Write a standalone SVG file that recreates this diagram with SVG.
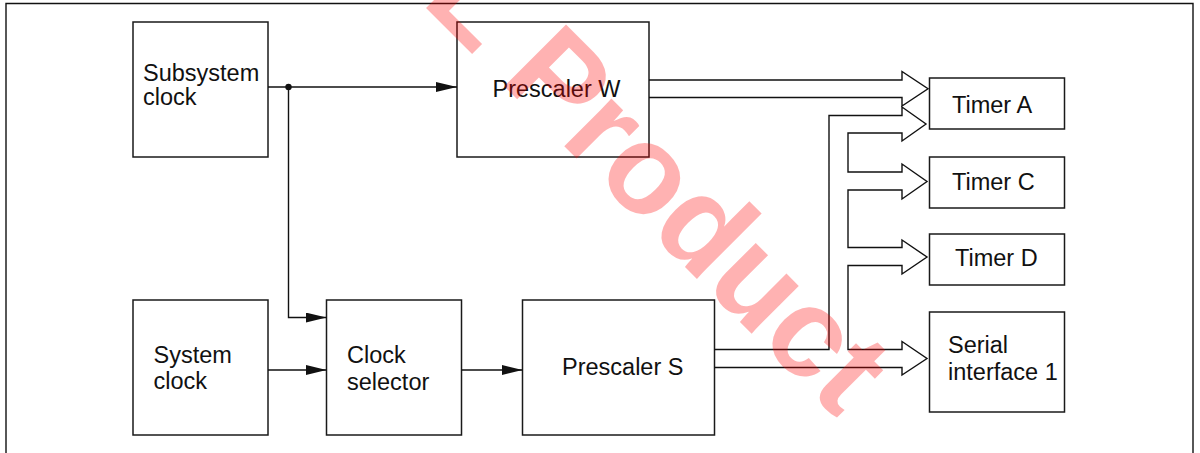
<svg xmlns="http://www.w3.org/2000/svg" width="1200" height="453" viewBox="0 0 1200 453">
<style>
.box{fill:#fff;stroke:#1a1a1a;stroke-width:1.5}
.t{font-family:"Liberation Sans",Arial,sans-serif;font-size:23.5px;fill:#111}
.ln{fill:none;stroke:#111;stroke-width:1.4}
.bus{fill:none;stroke:#111;stroke-width:1.4;stroke-linejoin:miter}
.wm{font-family:"Liberation Sans",Arial,sans-serif;font-weight:bold;font-size:127px;fill:#ff0000;fill-opacity:0.3}
</style>
<defs>
<marker id="ah" markerUnits="userSpaceOnUse" markerWidth="21" markerHeight="10" refX="21" refY="5" orient="auto">
<path d="M0,0 L21,5 L0,10 z" fill="#111"/>
</marker>
</defs>
<rect width="1200" height="453" fill="#fff"/>
<path class="ln" d="M6,455 V3.5 H1193 V455" stroke-width="1.5"/>

<g id="subsystem-clock">
<rect class="box" x="133" y="22" width="135" height="135"/>
<text class="t" x="143" y="80.5">Subsystem</text>
<text class="t" x="143" y="105">clock</text>
</g>
<g id="system-clock">
<rect class="box" x="133" y="300" width="135" height="135"/>
<text class="t" x="153.5" y="362.5">System</text>
<text class="t" x="153.5" y="388.5">clock</text>
</g>
<g id="clock-selector">
<rect class="box" x="326.5" y="300" width="135" height="135"/>
<text class="t" x="347" y="363">Clock</text>
<text class="t" x="347" y="389.5">selector</text>
</g>
<g id="prescaler-w">
<rect class="box" x="457" y="22" width="192" height="135"/>
<text class="t" x="492.5" y="96.5">Prescaler W</text>
</g>
<g id="prescaler-s">
<rect class="box" x="522.5" y="300" width="192" height="135"/>
<text class="t" x="562" y="375">Prescaler S</text>
</g>
<g id="timer-a">
<rect class="box" x="929.5" y="78" width="135" height="51"/>
<text class="t" x="952" y="112.5">Timer A</text>
</g>
<g id="timer-c">
<rect class="box" x="929.5" y="157" width="135" height="51"/>
<text class="t" x="952" y="190">Timer C</text>
</g>
<g id="timer-d">
<rect class="box" x="929.5" y="234" width="135" height="51"/>
<text class="t" x="955" y="265.5">Timer D</text>
</g>
<g id="serial-interface-1">
<rect class="box" x="929.5" y="312" width="135" height="100"/>
<text class="t" x="948" y="352.5">Serial</text>
<text class="t" x="948" y="380">interface 1</text>
</g>

<g id="connectors">
<line class="ln" x1="268" y1="87" x2="457" y2="87" marker-end="url(#ah)"/>
<circle cx="288.5" cy="87" r="3.2" fill="#111"/>
<polyline class="ln" points="288.5,87 288.5,317.5 326.5,317.5" marker-end="url(#ah)"/>
<line class="ln" x1="268" y1="370" x2="326.5" y2="370" marker-end="url(#ah)"/>
<line class="ln" x1="461.5" y1="370" x2="522.5" y2="370" marker-end="url(#ah)"/>
<polyline class="bus" points="649,80 902,80 902,71.5 928,88.75 902,106 902,97.5 649,97.5"/>
<polyline class="bus" points="714.5,349.5 829,349.5 829,115.5 902,115.5 902,107 926,124 902,141 902,133 848,133 848,172 902,172 902,164 927,181.5 902,199 902,190 848,190 848,247.5 902,247.5 902,240 927,257 902,274 902,265.5 848,265.5 848,349.5 902,349.5 902,341.5 927,358.5 902,375 902,367.5 714.5,367.5"/>
</g>

<text class="wm" transform="translate(420,2) rotate(45)">L Product</text>
</svg>
